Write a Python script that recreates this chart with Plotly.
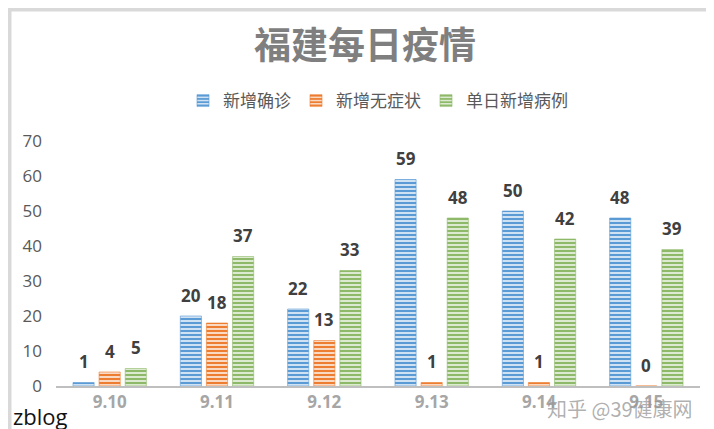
import plotly.graph_objects as go

# data
dates = ['9.10', '9.11', '9.12', '9.13', '9.14', '9.15']
confirmed = [1, 20, 22, 59, 50, 48]
asymptomatic = [4, 18, 13, 1, 1, 0]
daily_total = [5, 37, 33, 48, 42, 39]
series_names = ['新增确诊', '新增无症状', '单日新增病例']

colors = ['#5B9BD5', '#ED7D31', '#8DB968']
label_shift = [-26, 0, 26]

W, H = 714, 429
L, R, T, B = 48, 22, 133, 51


def px(x):
    return (x - L) / (W - L - R)


def py(y):
    return (H - B - y) / (H - T - B)


fig = go.Figure()
anns = []
for name, vals, col, dx in zip(series_names, [confirmed, asymptomatic, daily_total], colors, label_shift):
    fig.add_trace(go.Bar(
        x=dates, y=vals, name=name,
        marker=dict(color=col, line=dict(color=col, width=0.6),
                    pattern=dict(shape='-', size=4, solidity=0.65, fillmode='replace')),
    ))
    # value labels above bars (category index, since '9.10' reads as a number)
    for i, v in enumerate(vals):
        anns.append(dict(x=i, y=v, xref='x', yref='y', text=str(v), showarrow=False,
                         xshift=dx, yshift=21, yanchor='middle',
                         font=dict(family='Open Sans', size=17, color='#404040', weight='bold')))

# watermarks
anns.append(dict(x=px(3), y=py(408), xref='paper', yref='paper', text='zblog', showarrow=False,
                 xanchor='left', yanchor='middle',
                 font=dict(family='Open Sans', size=22, color='#111111')))
anns.append(dict(x=px(612), y=py(400), xref='paper', yref='paper', text='知乎 @39健康网', showarrow=False,
                 xanchor='center', yanchor='middle',
                 font=dict(family='Noto Sans CJK SC', size=20, color='rgba(150,150,150,0.75)')))

fig.update_layout(
    width=W, height=H,
    margin=dict(l=L, r=R, t=T, b=B),
    paper_bgcolor='white', plot_bgcolor='white',
    barmode='group', bargap=0.27, bargroupgap=0.19,
    title=dict(text='<b>福建每日疫情</b>', x=0.5, xanchor='center', y=1 - 38 / H, yanchor='middle',
               yref='container',
               font=dict(family='Noto Sans CJK SC', size=37, color='#7F7F7F')),
    legend=dict(orientation='h', x=0.5, xanchor='center', y=py(93), yanchor='middle',
                font=dict(family='Noto Sans CJK SC', size=17, color='#595959'),
                itemwidth=30, traceorder='normal'),
    xaxis=dict(type='category', range=[-0.5, len(dates) - 0.5], showline=True,
               linecolor='#BFBFBF', linewidth=2, ticks='',
               tickfont=dict(family='Open Sans', size=17, color='#A6A6A6', weight='bold'),
               ticklabelstandoff=0),
    yaxis=dict(range=[0, 70], dtick=10, showgrid=False, zeroline=False, showline=False,
               tickfont=dict(family='Open Sans', size=17, color='#595959'),
               ticklabelstandoff=13),
    annotations=anns,
    shapes=[dict(type='rect', xref='paper', yref='paper',
                 x0=px(1.5), x1=px(712), y0=py(426.5), y1=py(1.5),
                 line=dict(color='#D9D9D9', width=4), fillcolor='rgba(0,0,0,0)', layer='below')],
    showlegend=True,
)

fig.write_html('out.html')
